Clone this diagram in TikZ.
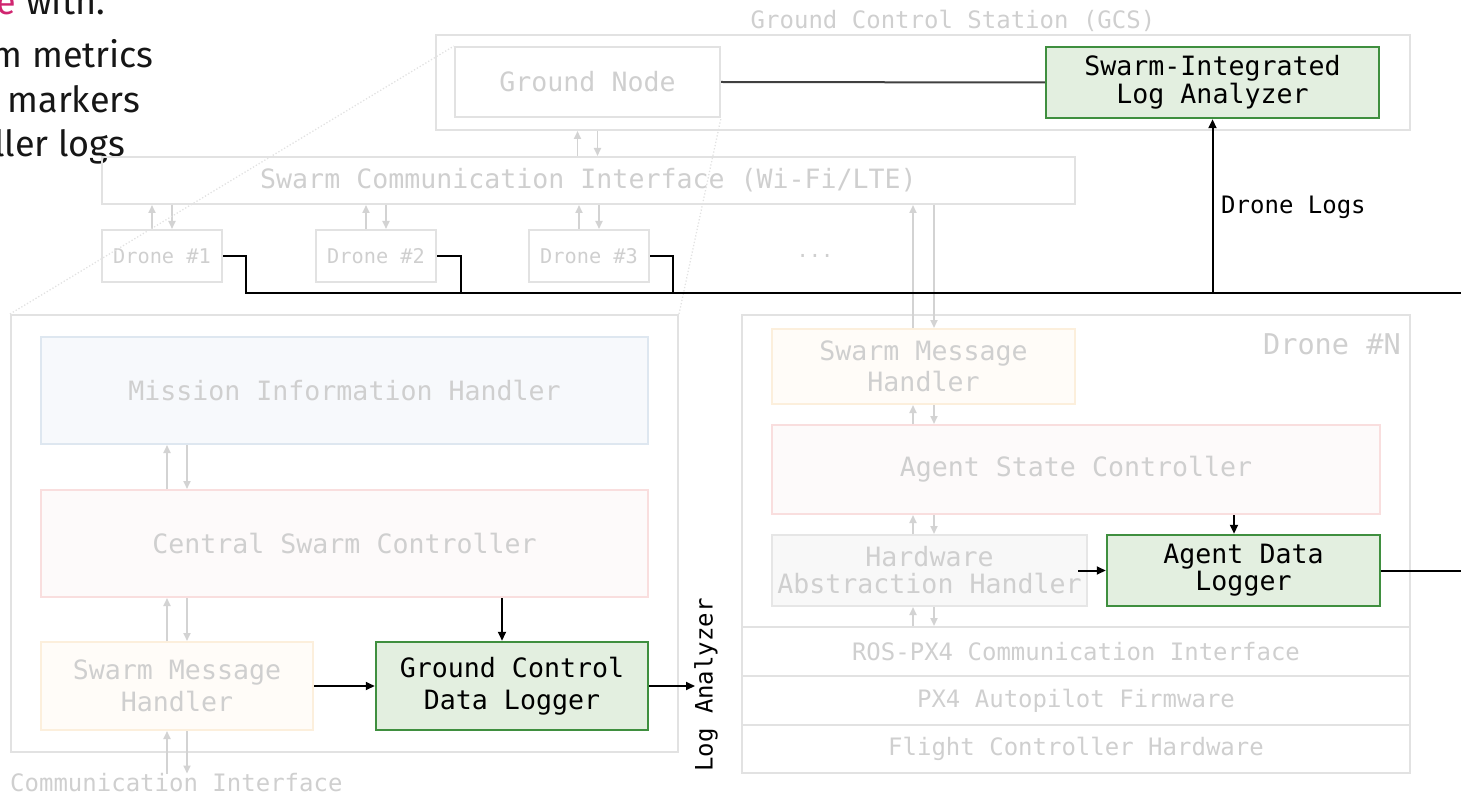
\documentclass[tikz,border=0pt]{standalone}
\usepackage{fontspec}
\setmainfont{Fira Sans}
\newfontfamily\monof{DejaVu Sans Mono}
\usetikzlibrary{arrows.meta,calc}
\definecolor{gline}{HTML}{E2E2E2}
\definecolor{gtext}{HTML}{CFCFCF}
\definecolor{garr}{HTML}{D3D3D3}
\definecolor{bluef}{HTML}{F7F9FC}
\definecolor{blued}{HTML}{DEE7F0}
\definecolor{pinkf}{HTML}{FDFAFA}
\definecolor{pinkd}{HTML}{F9DEDE}
\definecolor{orf}{HTML}{FFFCF8}
\definecolor{ord}{HTML}{FCEFDC}
\definecolor{grayf}{HTML}{F8F8F8}
\definecolor{grayd}{HTML}{E6E6E6}
\definecolor{grf}{HTML}{E3EFE0}
\definecolor{grd}{HTML}{3F8F3F}
\definecolor{ink}{HTML}{161616}
\definecolor{magenta}{HTML}{D02670}
\definecolor{dline}{HTML}{404040}
\begin{document}
\begin{tikzpicture}[x=1pt,y=-1pt,
  box/.style={draw=gline, line width=2pt, rectangle, inner sep=0pt, align=center, text=gtext,
    font=\monof\fontsize{26.6}{32}\selectfont},
  greenbox/.style={box, draw=grd, fill=grf, line width=2.5pt, text=black},
  layer/.style={box, font=\monof\fontsize{24}{28}\selectfont},
  garrow/.style={draw=garr, line width=1.8pt, -{Triangle[length=8pt,width=7pt]}},
  barrow/.style={draw=black, line width=2pt, -{Triangle[length=9pt,width=8pt]}},
  bus/.style={draw=black, line width=2.5pt},
  zoomline/.style={draw=gline, line width=1.3pt, dotted},
  slidetext/.style={font=\fontsize{36}{40}\selectfont, text=ink, anchor=base east, inner sep=0pt},
  lbl/.style={font=\monof\fontsize{24}{28}\selectfont, text=black, inner sep=0pt},
  glbl/.style={font=\monof\fontsize{24}{28}\selectfont, text=gtext, inner sep=0pt}
]
\useasboundingbox (0,0) rectangle (1461,794);
\clip (0,0) rectangle (1461,794);

% slide text fragments
\node[slidetext] (t1) at (105,15) {\textcolor{magenta}{e} with.};
\node[slidetext] (t2) at (154,68) {m metrics};
\node[slidetext] (t3) at (140,113) {markers};
\node[slidetext] (t4) at (125,157) {ller logs};

% GCS
\node[glbl] (gcslbl) at (953,21) {Ground Control Station (GCS)};
\node[box, minimum width=974pt, minimum height=95pt] (gcs) at (923,82.5) {};
\node[box, minimum width=265pt, minimum height=70pt] (gnode) at (587.5,82) {Ground Node};
\node[greenbox, minimum width=333pt, minimum height=71pt, font=\monof\fontsize{26.6}{28}\selectfont] (sila) at (1212.5,82.5) {Swarm-Integrated\\Log Analyzer};
\draw[draw=dline, line width=2pt] (gnode.east) -- (sila.west);

% swarm comm interface and drones
\node[box, minimum width=973pt, minimum height=47pt] (sci) at (588.5,180.5) {Swarm Communication Interface (Wi-Fi/LTE)};
\node[box, minimum width=120pt, minimum height=52pt, font=\monof\fontsize{20.3}{24}\selectfont] (d1) at (162,256) {Drone \#1};
\node[box, minimum width=120pt, minimum height=52pt, font=\monof\fontsize{20.3}{24}\selectfont] (d2) at (376,256) {Drone \#2};
\node[box, minimum width=120pt, minimum height=52pt, font=\monof\fontsize{20.3}{24}\selectfont] (d3) at (589,256) {Drone \#3};
\node[text=gtext, font=\monof\fontsize{20.3}{24}\selectfont, inner sep=0pt] (dots) at (815,256) {...};

\draw[garrow] ($(gnode.south |- sci.north)+(-10,0)$) -- ($(gnode.south |- gcs.south)+(-10,0)$);
\draw[garrow] ($(gnode.south |- gcs.south)+(10,0)$) -- ($(gnode.south |- sci.north)+(10,0)$);
\foreach \d in {d1,d2,d3}{
  \draw[garrow] ($(\d.north)+(-10,0)$) -- ($(\d.north |- sci.south)+(-10,0)$);
  \draw[garrow] ($(\d.north |- sci.south)+(10,0)$) -- ($(\d.north)+(10,0)$);
}

% left big box (Ground Node detail)
\node[box, minimum width=667pt, minimum height=437pt] (gbig) at (344.5,533.5) {};
\node[box, draw=blued, fill=bluef, minimum width=607pt, minimum height=107pt] (mih) at (344.5,390.5) {Mission Information Handler};
\node[box, draw=pinkd, fill=pinkf, minimum width=607pt, minimum height=107pt] (csc) at (344.5,543.5) {Central Swarm Controller};
\node[box, draw=ord, fill=orf, minimum width=272pt, minimum height=88pt] (smh) at (177,686) {Swarm Message\\Handler};
\node[greenbox, minimum width=272pt, minimum height=88pt] (gcdl) at (512,686) {Ground Control\\Data Logger};
\node[glbl, anchor=west] (comm) at (10,783) {Communication Interface};

\draw[garrow] ($(smh.north |- csc.north)+(-10,0)$) -- ($(smh.north |- mih.south)+(-10,0)$);
\draw[garrow] ($(smh.north |- mih.south)+(10,0)$) -- ($(smh.north |- csc.north)+(10,0)$);
\draw[garrow] ($(smh.north)+(-10,0)$) -- ($(smh.north |- csc.south)+(-10,0)$);
\draw[garrow] ($(smh.north |- csc.south)+(10,0)$) -- ($(smh.north)+(10,0)$);
\draw[garrow] ($(smh.south |- comm.north)+(-10,0)$) -- ($(smh.south)+(-10,0)$);
\draw[garrow] ($(smh.south)+(10,0)$) -- ($(smh.south |- comm.north)+(10,0)$);

\draw[barrow] ($(gcdl.north |- csc.south)+(-10,0)$) -- ($(gcdl.north)+(-10,0)$);
\draw[barrow] (smh.east) -- (gcdl.west);
\coordinate (laend) at (695,686);
\draw[barrow] (gcdl.east) -- (laend);
\node[lbl, rotate=90] (la) at (706,685) {Log Analyzer};

% zoom lines
\draw[zoomline] (gbig.north west) -- (gnode.north west);
\draw[zoomline] (gbig.north east) -- (gnode.south east);

% right big box (Drone #N)
\node[box, minimum width=668pt, minimum height=458pt] (dn) at (1076,544) {};
\node[layer, minimum width=668pt, minimum height=49pt] (ros) at (1076,651.5) {ROS-PX4 Communication Interface};
\node[layer, minimum width=668pt, minimum height=49pt] (px4) at (1076,700.5) {PX4 Autopilot Firmware};
\node[layer, minimum width=668pt, minimum height=48pt] (fch) at (1076,749) {Flight Controller Hardware};
\node[text=gtext, font=\monof\fontsize{28.6}{32}\selectfont, inner sep=0pt, anchor=east] (dnlbl) at (1401,344) {Drone \#N};
\node[box, draw=ord, fill=orf, minimum width=303pt, minimum height=75pt, font=\monof\fontsize{26.6}{31}\selectfont] (smh2) at (923.5,366.5) {Swarm Message\\Handler};
\node[box, draw=pinkd, fill=pinkf, minimum width=608pt, minimum height=89pt] (asc) at (1076,469.5) {Agent State Controller};
\node[box, draw=grayd, fill=grayf, minimum width=315pt, minimum height=71pt, font=\monof\fontsize{26.6}{27}\selectfont] (hah) at (929.5,570.5) {Hardware\\Abstraction Handler};
\node[greenbox, minimum width=273pt, minimum height=71pt, font=\monof\fontsize{26.6}{27}\selectfont] (adl) at (1243.5,570.5) {Agent Data\\Logger};

\draw[garrow] ($(smh2.north)+(-10.5,0)$) -- ($(smh2.north |- sci.south)+(-10.5,0)$);
\draw[garrow] ($(smh2.north |- sci.south)+(10.5,0)$) -- ($(smh2.north)+(10.5,0)$);
\draw[garrow] ($(smh2.north |- asc.north)+(-10.5,0)$) -- ($(smh2.south)+(-10.5,0)$);
\draw[garrow] ($(smh2.south)+(10.5,0)$) -- ($(smh2.north |- asc.north)+(10.5,0)$);
\draw[garrow] ($(smh2.north |- hah.north)+(-10.5,0)$) -- ($(smh2.north |- asc.south)+(-10.5,0)$);
\draw[garrow] ($(smh2.north |- asc.south)+(10.5,0)$) -- ($(smh2.north |- hah.north)+(10.5,0)$);
\draw[garrow] ($(smh2.north |- ros.north)+(-10.5,0)$) -- ($(smh2.north |- hah.south)+(-10.5,0)$);
\draw[garrow] ($(smh2.north |- hah.south)+(10.5,0)$) -- ($(smh2.north |- ros.north)+(10.5,0)$);

\draw[barrow] ($(adl.north |- asc.south)+(-9.5,0)$) -- ($(adl.north)+(-9.5,0)$);
\draw[barrow] ($(hah.east)+(-10,0)$) -- (adl.west);
\coordinate (adlR) at (1461,570.5);
\draw[bus, line width=2pt] (adl.east) -- (adlR);

% bus of drone logs
\coordinate (busR) at (1461,293);
\draw[bus] (d1.east) -- ++(23,0) |- (busR);
\draw[bus] (d2.east) -- ++(24,0) |- (busR);
\draw[bus] (d3.east) -- ++(23,0) |- (busR);
\draw[barrow] (sila.south |- busR) -- (sila.south);
\node[lbl, anchor=west] (dlogs) at (1221,207) {Drone Logs};
\end{tikzpicture}
\end{document}
